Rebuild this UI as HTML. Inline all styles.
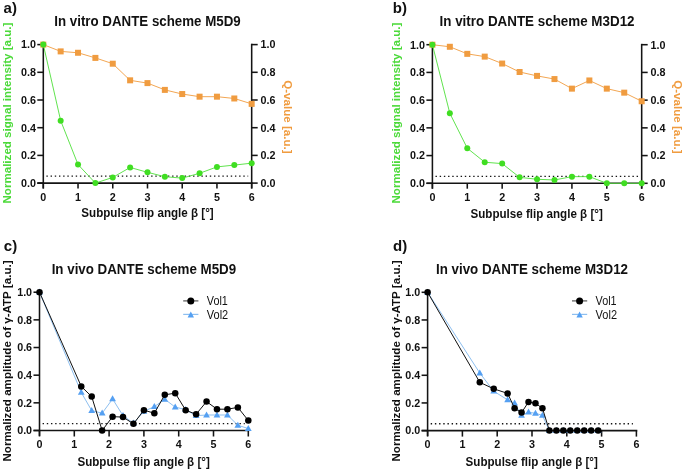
<!DOCTYPE html>
<html><head><meta charset="utf-8"><style>
html,body{margin:0;padding:0;background:#fff;width:685px;height:470px;overflow:hidden}
svg{display:block;will-change:transform}
text{font-family:"Liberation Sans", sans-serif;fill:#111}
.tk{font-size:10.75px;font-weight:bold}
.tt{font-size:11.6px;font-weight:bold}
.ti{font-size:13.4px;font-weight:bold}
.tx{font-size:12px;font-weight:bold}
.pl{font-size:15px;font-weight:bold}
.lg{font-size:11px}
</style></head><body>
<svg width="685" height="470" viewBox="0 0 685 470">
<rect width="685" height="470" fill="#fff"/>
<text transform="translate(3.6,12.6)" class="pl">a)</text>
<text transform="translate(392.8,12.6)" class="pl">b)</text>
<text transform="translate(3.8,251.2)" class="pl">c)</text>
<text transform="translate(393,251.2)" class="pl">d)</text>
<text transform="translate(147.49,25.9) scale(1,1.06)" class="ti" textLength="186.5" lengthAdjust="spacingAndGlyphs" text-anchor="middle">In vitro DANTE scheme M5D9</text>
<text transform="translate(537.04,25.9) scale(1,1.06)" class="ti" textLength="195" lengthAdjust="spacingAndGlyphs" text-anchor="middle">In vitro DANTE scheme M3D12</text>
<text transform="translate(143.9,273.6) scale(1,1.06)" class="ti" textLength="184.5" lengthAdjust="spacingAndGlyphs" text-anchor="middle">In vivo DANTE scheme M5D9</text>
<text transform="translate(532,273.6) scale(1,1.06)" class="ti" textLength="192" lengthAdjust="spacingAndGlyphs" text-anchor="middle">In vivo DANTE scheme M3D12</text>
<text transform="translate(147.49,217.2) scale(1,1.04)" class="tx" textLength="132.3" lengthAdjust="spacingAndGlyphs" text-anchor="middle">Subpulse flip angle β [°]</text>
<text transform="translate(536.64,218) scale(1,1.04)" class="tx" textLength="132.3" lengthAdjust="spacingAndGlyphs" text-anchor="middle">Subpulse flip angle β [°]</text>
<text transform="translate(143.6,466.2) scale(1,1.04)" class="tx" textLength="132.3" lengthAdjust="spacingAndGlyphs" text-anchor="middle">Subpulse flip angle β [°]</text>
<text transform="translate(531.7,466.2) scale(1,1.04)" class="tx" textLength="132.3" lengthAdjust="spacingAndGlyphs" text-anchor="middle">Subpulse flip angle β [°]</text>
<text transform="translate(10.5,113.1) rotate(-90) scale(1,1.02)" class="tt" style="fill:#4cda3a" text-anchor="middle">Normalized signal intensity [a.u.]</text>
<text transform="translate(399.6,113.1) rotate(-90) scale(1,1.02)" class="tt" style="fill:#4cda3a" text-anchor="middle">Normalized signal intensity [a.u.]</text>
<text transform="translate(10.7,361) rotate(-90) scale(1,1.02)" class="tt" style="fill:#111" text-anchor="middle">Normalized amplitude of γ-ATP [a.u.]</text>
<text transform="translate(399.7,361) rotate(-90) scale(1,1.02)" class="tt" style="fill:#111" text-anchor="middle">Normalized amplitude of γ-ATP [a.u.]</text>
<text transform="translate(283.7,116.9) rotate(90)" class="tt" style="fill:#f09c40" text-anchor="middle">Q-value [a.u.]</text>
<text transform="translate(673.7,116.9) rotate(90)" class="tt" style="fill:#f09c40" text-anchor="middle">Q-value [a.u.]</text>
<line x1="43.3" y1="43.7" x2="43.3" y2="188.5" stroke="#141414" stroke-width="1.55"/>
<line x1="37.3" y1="183.1" x2="252.58" y2="183.1" stroke="#141414" stroke-width="1.55"/>
<line x1="37.3" y1="183.1" x2="43.3" y2="183.1" stroke="#141414" stroke-width="1.55"/>
<line x1="251.68" y1="183.1" x2="257.68" y2="183.1" stroke="#141414" stroke-width="1.55"/>
<line x1="37.3" y1="155.4" x2="43.3" y2="155.4" stroke="#141414" stroke-width="1.55"/>
<line x1="251.68" y1="155.4" x2="257.68" y2="155.4" stroke="#141414" stroke-width="1.55"/>
<line x1="37.3" y1="127.7" x2="43.3" y2="127.7" stroke="#141414" stroke-width="1.55"/>
<line x1="251.68" y1="127.7" x2="257.68" y2="127.7" stroke="#141414" stroke-width="1.55"/>
<line x1="37.3" y1="100" x2="43.3" y2="100" stroke="#141414" stroke-width="1.55"/>
<line x1="251.68" y1="100" x2="257.68" y2="100" stroke="#141414" stroke-width="1.55"/>
<line x1="37.3" y1="72.3" x2="43.3" y2="72.3" stroke="#141414" stroke-width="1.55"/>
<line x1="251.68" y1="72.3" x2="257.68" y2="72.3" stroke="#141414" stroke-width="1.55"/>
<line x1="37.3" y1="44.6" x2="43.3" y2="44.6" stroke="#141414" stroke-width="1.55"/>
<line x1="251.68" y1="44.6" x2="257.68" y2="44.6" stroke="#141414" stroke-width="1.55"/>
<line x1="251.68" y1="43.7" x2="251.68" y2="188.5" stroke="#141414" stroke-width="1.55"/>
<line x1="43.3" y1="183.1" x2="43.3" y2="188.5" stroke="#141414" stroke-width="1.55"/>
<line x1="78.03" y1="183.1" x2="78.03" y2="188.5" stroke="#141414" stroke-width="1.55"/>
<line x1="112.76" y1="183.1" x2="112.76" y2="188.5" stroke="#141414" stroke-width="1.55"/>
<line x1="147.49" y1="183.1" x2="147.49" y2="188.5" stroke="#141414" stroke-width="1.55"/>
<line x1="182.22" y1="183.1" x2="182.22" y2="188.5" stroke="#141414" stroke-width="1.55"/>
<line x1="216.95" y1="183.1" x2="216.95" y2="188.5" stroke="#141414" stroke-width="1.55"/>
<line x1="251.68" y1="183.1" x2="251.68" y2="188.5" stroke="#141414" stroke-width="1.55"/>
<text transform="translate(35.9,186.95)" class="tk" text-anchor="end">0.0</text>
<text transform="translate(260.58,186.95)" class="tk">0.0</text>
<text transform="translate(35.9,159.25)" class="tk" text-anchor="end">0.2</text>
<text transform="translate(260.58,159.25)" class="tk">0.2</text>
<text transform="translate(35.9,131.55)" class="tk" text-anchor="end">0.4</text>
<text transform="translate(260.58,131.55)" class="tk">0.4</text>
<text transform="translate(35.9,103.85)" class="tk" text-anchor="end">0.6</text>
<text transform="translate(260.58,103.85)" class="tk">0.6</text>
<text transform="translate(35.9,76.15)" class="tk" text-anchor="end">0.8</text>
<text transform="translate(260.58,76.15)" class="tk">0.8</text>
<text transform="translate(35.9,48.45)" class="tk" text-anchor="end">1.0</text>
<text transform="translate(260.58,48.45)" class="tk">1.0</text>
<text transform="translate(43.3,200.6)" class="tk" text-anchor="middle">0</text>
<text transform="translate(78.03,200.6)" class="tk" text-anchor="middle">1</text>
<text transform="translate(112.76,200.6)" class="tk" text-anchor="middle">2</text>
<text transform="translate(147.49,200.6)" class="tk" text-anchor="middle">3</text>
<text transform="translate(182.22,200.6)" class="tk" text-anchor="middle">4</text>
<text transform="translate(216.95,200.6)" class="tk" text-anchor="middle">5</text>
<text transform="translate(251.68,200.6)" class="tk" text-anchor="middle">6</text>
<line x1="46.4" y1="176.17" x2="248.18" y2="176.17" stroke="#141414" stroke-width="1.4" stroke-dasharray="1.4 2.79"/>
<line x1="432.4" y1="43.8" x2="432.4" y2="188.7" stroke="#141414" stroke-width="1.55"/>
<line x1="426.4" y1="183.3" x2="642.58" y2="183.3" stroke="#141414" stroke-width="1.55"/>
<line x1="426.4" y1="183.3" x2="432.4" y2="183.3" stroke="#141414" stroke-width="1.55"/>
<line x1="641.68" y1="183.3" x2="647.68" y2="183.3" stroke="#141414" stroke-width="1.55"/>
<line x1="426.4" y1="155.58" x2="432.4" y2="155.58" stroke="#141414" stroke-width="1.55"/>
<line x1="641.68" y1="155.58" x2="647.68" y2="155.58" stroke="#141414" stroke-width="1.55"/>
<line x1="426.4" y1="127.86" x2="432.4" y2="127.86" stroke="#141414" stroke-width="1.55"/>
<line x1="641.68" y1="127.86" x2="647.68" y2="127.86" stroke="#141414" stroke-width="1.55"/>
<line x1="426.4" y1="100.14" x2="432.4" y2="100.14" stroke="#141414" stroke-width="1.55"/>
<line x1="641.68" y1="100.14" x2="647.68" y2="100.14" stroke="#141414" stroke-width="1.55"/>
<line x1="426.4" y1="72.42" x2="432.4" y2="72.42" stroke="#141414" stroke-width="1.55"/>
<line x1="641.68" y1="72.42" x2="647.68" y2="72.42" stroke="#141414" stroke-width="1.55"/>
<line x1="426.4" y1="44.7" x2="432.4" y2="44.7" stroke="#141414" stroke-width="1.55"/>
<line x1="641.68" y1="44.7" x2="647.68" y2="44.7" stroke="#141414" stroke-width="1.55"/>
<line x1="641.68" y1="43.8" x2="641.68" y2="188.7" stroke="#141414" stroke-width="1.55"/>
<line x1="432.4" y1="183.3" x2="432.4" y2="188.7" stroke="#141414" stroke-width="1.55"/>
<line x1="467.28" y1="183.3" x2="467.28" y2="188.7" stroke="#141414" stroke-width="1.55"/>
<line x1="502.16" y1="183.3" x2="502.16" y2="188.7" stroke="#141414" stroke-width="1.55"/>
<line x1="537.04" y1="183.3" x2="537.04" y2="188.7" stroke="#141414" stroke-width="1.55"/>
<line x1="571.92" y1="183.3" x2="571.92" y2="188.7" stroke="#141414" stroke-width="1.55"/>
<line x1="606.8" y1="183.3" x2="606.8" y2="188.7" stroke="#141414" stroke-width="1.55"/>
<line x1="641.68" y1="183.3" x2="641.68" y2="188.7" stroke="#141414" stroke-width="1.55"/>
<text transform="translate(425,187.15)" class="tk" text-anchor="end">0.0</text>
<text transform="translate(650.58,187.15)" class="tk">0.0</text>
<text transform="translate(425,159.43)" class="tk" text-anchor="end">0.2</text>
<text transform="translate(650.58,159.43)" class="tk">0.2</text>
<text transform="translate(425,131.71)" class="tk" text-anchor="end">0.4</text>
<text transform="translate(650.58,131.71)" class="tk">0.4</text>
<text transform="translate(425,103.99)" class="tk" text-anchor="end">0.6</text>
<text transform="translate(650.58,103.99)" class="tk">0.6</text>
<text transform="translate(425,76.27)" class="tk" text-anchor="end">0.8</text>
<text transform="translate(650.58,76.27)" class="tk">0.8</text>
<text transform="translate(425,48.55)" class="tk" text-anchor="end">1.0</text>
<text transform="translate(650.58,48.55)" class="tk">1.0</text>
<text transform="translate(432.4,200.8)" class="tk" text-anchor="middle">0</text>
<text transform="translate(467.28,200.8)" class="tk" text-anchor="middle">1</text>
<text transform="translate(502.16,200.8)" class="tk" text-anchor="middle">2</text>
<text transform="translate(537.04,200.8)" class="tk" text-anchor="middle">3</text>
<text transform="translate(571.92,200.8)" class="tk" text-anchor="middle">4</text>
<text transform="translate(606.8,200.8)" class="tk" text-anchor="middle">5</text>
<text transform="translate(641.68,200.8)" class="tk" text-anchor="middle">6</text>
<line x1="435.5" y1="176.37" x2="638.18" y2="176.37" stroke="#141414" stroke-width="1.4" stroke-dasharray="1.4 2.79"/>
<line x1="39.5" y1="291.3" x2="39.5" y2="435.9" stroke="#141414" stroke-width="1.55"/>
<line x1="33.5" y1="430.5" x2="249.2" y2="430.5" stroke="#141414" stroke-width="1.55"/>
<line x1="33.5" y1="430.5" x2="39.5" y2="430.5" stroke="#141414" stroke-width="1.55"/>
<line x1="33.5" y1="402.84" x2="39.5" y2="402.84" stroke="#141414" stroke-width="1.55"/>
<line x1="33.5" y1="375.18" x2="39.5" y2="375.18" stroke="#141414" stroke-width="1.55"/>
<line x1="33.5" y1="347.52" x2="39.5" y2="347.52" stroke="#141414" stroke-width="1.55"/>
<line x1="33.5" y1="319.86" x2="39.5" y2="319.86" stroke="#141414" stroke-width="1.55"/>
<line x1="33.5" y1="292.2" x2="39.5" y2="292.2" stroke="#141414" stroke-width="1.55"/>
<line x1="39.5" y1="430.5" x2="39.5" y2="436.5" stroke="#141414" stroke-width="1.55"/>
<line x1="74.3" y1="430.5" x2="74.3" y2="436.5" stroke="#141414" stroke-width="1.55"/>
<line x1="109.1" y1="430.5" x2="109.1" y2="436.5" stroke="#141414" stroke-width="1.55"/>
<line x1="143.9" y1="430.5" x2="143.9" y2="436.5" stroke="#141414" stroke-width="1.55"/>
<line x1="178.7" y1="430.5" x2="178.7" y2="436.5" stroke="#141414" stroke-width="1.55"/>
<line x1="213.5" y1="430.5" x2="213.5" y2="436.5" stroke="#141414" stroke-width="1.55"/>
<line x1="248.3" y1="430.5" x2="248.3" y2="436.5" stroke="#141414" stroke-width="1.55"/>
<text transform="translate(32.1,434.35)" class="tk" text-anchor="end">0.0</text>
<text transform="translate(32.1,406.69)" class="tk" text-anchor="end">0.2</text>
<text transform="translate(32.1,379.03)" class="tk" text-anchor="end">0.4</text>
<text transform="translate(32.1,351.37)" class="tk" text-anchor="end">0.6</text>
<text transform="translate(32.1,323.71)" class="tk" text-anchor="end">0.8</text>
<text transform="translate(32.1,296.05)" class="tk" text-anchor="end">1.0</text>
<text transform="translate(39.5,448)" class="tk" text-anchor="middle">0</text>
<text transform="translate(74.3,448)" class="tk" text-anchor="middle">1</text>
<text transform="translate(109.1,448)" class="tk" text-anchor="middle">2</text>
<text transform="translate(143.9,448)" class="tk" text-anchor="middle">3</text>
<text transform="translate(178.7,448)" class="tk" text-anchor="middle">4</text>
<text transform="translate(213.5,448)" class="tk" text-anchor="middle">5</text>
<text transform="translate(248.3,448)" class="tk" text-anchor="middle">6</text>
<line x1="42.6" y1="423.58" x2="244.8" y2="423.58" stroke="#141414" stroke-width="1.4" stroke-dasharray="1.4 2.79"/>
<line x1="427.6" y1="291.4" x2="427.6" y2="436" stroke="#141414" stroke-width="1.55"/>
<line x1="421.6" y1="430.6" x2="637.3" y2="430.6" stroke="#141414" stroke-width="1.55"/>
<line x1="421.6" y1="430.6" x2="427.6" y2="430.6" stroke="#141414" stroke-width="1.55"/>
<line x1="421.6" y1="402.94" x2="427.6" y2="402.94" stroke="#141414" stroke-width="1.55"/>
<line x1="421.6" y1="375.28" x2="427.6" y2="375.28" stroke="#141414" stroke-width="1.55"/>
<line x1="421.6" y1="347.62" x2="427.6" y2="347.62" stroke="#141414" stroke-width="1.55"/>
<line x1="421.6" y1="319.96" x2="427.6" y2="319.96" stroke="#141414" stroke-width="1.55"/>
<line x1="421.6" y1="292.3" x2="427.6" y2="292.3" stroke="#141414" stroke-width="1.55"/>
<line x1="427.6" y1="430.6" x2="427.6" y2="436.6" stroke="#141414" stroke-width="1.55"/>
<line x1="462.4" y1="430.6" x2="462.4" y2="436.6" stroke="#141414" stroke-width="1.55"/>
<line x1="497.2" y1="430.6" x2="497.2" y2="436.6" stroke="#141414" stroke-width="1.55"/>
<line x1="532" y1="430.6" x2="532" y2="436.6" stroke="#141414" stroke-width="1.55"/>
<line x1="566.8" y1="430.6" x2="566.8" y2="436.6" stroke="#141414" stroke-width="1.55"/>
<line x1="601.6" y1="430.6" x2="601.6" y2="436.6" stroke="#141414" stroke-width="1.55"/>
<line x1="636.4" y1="430.6" x2="636.4" y2="436.6" stroke="#141414" stroke-width="1.55"/>
<text transform="translate(420.2,434.45)" class="tk" text-anchor="end">0.0</text>
<text transform="translate(420.2,406.79)" class="tk" text-anchor="end">0.2</text>
<text transform="translate(420.2,379.13)" class="tk" text-anchor="end">0.4</text>
<text transform="translate(420.2,351.47)" class="tk" text-anchor="end">0.6</text>
<text transform="translate(420.2,323.81)" class="tk" text-anchor="end">0.8</text>
<text transform="translate(420.2,296.15)" class="tk" text-anchor="end">1.0</text>
<text transform="translate(427.6,448.1)" class="tk" text-anchor="middle">0</text>
<text transform="translate(462.4,448.1)" class="tk" text-anchor="middle">1</text>
<text transform="translate(497.2,448.1)" class="tk" text-anchor="middle">2</text>
<text transform="translate(532,448.1)" class="tk" text-anchor="middle">3</text>
<text transform="translate(566.8,448.1)" class="tk" text-anchor="middle">4</text>
<text transform="translate(601.6,448.1)" class="tk" text-anchor="middle">5</text>
<text transform="translate(636.4,448.1)" class="tk" text-anchor="middle">6</text>
<line x1="430.7" y1="423.69" x2="632.9" y2="423.69" stroke="#141414" stroke-width="1.4" stroke-dasharray="1.4 2.79"/>
<polyline points="43.3,44.6 60.66,51.39 78.03,52.77 95.39,57.9 112.76,63.71 130.12,80.33 147.49,83.1 164.85,89.89 182.22,94.04 199.58,96.68 216.95,96.68 234.31,98.48 251.68,103.88" fill="none" stroke="#f09c40" stroke-width="0.9" stroke-linejoin="round"/>
<rect x="40.3" y="41.6" width="6" height="6" fill="#f09c40"/>
<rect x="57.66" y="48.39" width="6" height="6" fill="#f09c40"/>
<rect x="75.03" y="49.77" width="6" height="6" fill="#f09c40"/>
<rect x="92.39" y="54.9" width="6" height="6" fill="#f09c40"/>
<rect x="109.76" y="60.71" width="6" height="6" fill="#f09c40"/>
<rect x="127.12" y="77.33" width="6" height="6" fill="#f09c40"/>
<rect x="144.49" y="80.1" width="6" height="6" fill="#f09c40"/>
<rect x="161.85" y="86.89" width="6" height="6" fill="#f09c40"/>
<rect x="179.22" y="91.04" width="6" height="6" fill="#f09c40"/>
<rect x="196.58" y="93.68" width="6" height="6" fill="#f09c40"/>
<rect x="213.95" y="93.68" width="6" height="6" fill="#f09c40"/>
<rect x="231.31" y="95.48" width="6" height="6" fill="#f09c40"/>
<rect x="248.68" y="100.88" width="6" height="6" fill="#f09c40"/>
<polyline points="43.3,44.6 60.66,120.64 78.03,164.54 95.39,183.1 112.76,177.42 130.12,167.45 147.49,172.3 164.85,176.73 182.22,178.11 199.58,173.27 216.95,166.9 234.31,165.09 251.68,163.16" fill="none" stroke="#58e246" stroke-width="0.95" stroke-linejoin="round"/>
<circle cx="43.3" cy="44.6" r="3.0" fill="#40de22"/>
<circle cx="60.66" cy="120.64" r="3.0" fill="#40de22"/>
<circle cx="78.03" cy="164.54" r="3.0" fill="#40de22"/>
<circle cx="95.39" cy="183.1" r="3.0" fill="#40de22"/>
<circle cx="112.76" cy="177.42" r="3.0" fill="#40de22"/>
<circle cx="130.12" cy="167.45" r="3.0" fill="#40de22"/>
<circle cx="147.49" cy="172.3" r="3.0" fill="#40de22"/>
<circle cx="164.85" cy="176.73" r="3.0" fill="#40de22"/>
<circle cx="182.22" cy="178.11" r="3.0" fill="#40de22"/>
<circle cx="199.58" cy="173.27" r="3.0" fill="#40de22"/>
<circle cx="216.95" cy="166.9" r="3.0" fill="#40de22"/>
<circle cx="234.31" cy="165.09" r="3.0" fill="#40de22"/>
<circle cx="251.68" cy="163.16" r="3.0" fill="#40de22"/>
<polyline points="432.4,44.7 449.84,46.78 467.28,53.85 484.72,56.62 502.16,63.55 519.6,72 537.04,75.89 554.48,79.07 571.92,88.64 589.36,80.46 606.8,88.64 624.24,92.66 641.68,101.25" fill="none" stroke="#f09c40" stroke-width="0.9" stroke-linejoin="round"/>
<rect x="429.4" y="41.7" width="6" height="6" fill="#f09c40"/>
<rect x="446.84" y="43.78" width="6" height="6" fill="#f09c40"/>
<rect x="464.28" y="50.85" width="6" height="6" fill="#f09c40"/>
<rect x="481.72" y="53.62" width="6" height="6" fill="#f09c40"/>
<rect x="499.16" y="60.55" width="6" height="6" fill="#f09c40"/>
<rect x="516.6" y="69" width="6" height="6" fill="#f09c40"/>
<rect x="534.04" y="72.89" width="6" height="6" fill="#f09c40"/>
<rect x="551.48" y="76.07" width="6" height="6" fill="#f09c40"/>
<rect x="568.92" y="85.64" width="6" height="6" fill="#f09c40"/>
<rect x="586.36" y="77.46" width="6" height="6" fill="#f09c40"/>
<rect x="603.8" y="85.64" width="6" height="6" fill="#f09c40"/>
<rect x="621.24" y="89.66" width="6" height="6" fill="#f09c40"/>
<rect x="638.68" y="98.25" width="6" height="6" fill="#f09c40"/>
<polyline points="432.4,44.7 449.84,113.31 467.28,148.23 484.72,162.23 502.16,163.62 519.6,177.34 537.04,179.28 554.48,179.97 571.92,176.65 589.36,176.65 606.8,183.3 624.24,183.3 641.68,183.3" fill="none" stroke="#58e246" stroke-width="0.95" stroke-linejoin="round"/>
<circle cx="432.4" cy="44.7" r="3.0" fill="#40de22"/>
<circle cx="449.84" cy="113.31" r="3.0" fill="#40de22"/>
<circle cx="467.28" cy="148.23" r="3.0" fill="#40de22"/>
<circle cx="484.72" cy="162.23" r="3.0" fill="#40de22"/>
<circle cx="502.16" cy="163.62" r="3.0" fill="#40de22"/>
<circle cx="519.6" cy="177.34" r="3.0" fill="#40de22"/>
<circle cx="537.04" cy="179.28" r="3.0" fill="#40de22"/>
<circle cx="554.48" cy="179.97" r="3.0" fill="#40de22"/>
<circle cx="571.92" cy="176.65" r="3.0" fill="#40de22"/>
<circle cx="589.36" cy="176.65" r="3.0" fill="#40de22"/>
<circle cx="606.8" cy="183.3" r="3.0" fill="#40de22"/>
<circle cx="624.24" cy="183.3" r="3.0" fill="#40de22"/>
<circle cx="641.68" cy="183.3" r="3.0" fill="#40de22"/>
<polyline points="39.5,292.2 81.26,392.47 91.7,410.58 102.14,413.21 112.58,398.97 123.02,415.7 133.46,423.17 143.9,411.28 154.34,406.71 164.78,399.24 175.22,407.13 185.66,409.62 196.1,415.7 206.54,415.01 216.98,415.01 227.42,415.01 237.86,425.24 248.3,428.56" fill="none" stroke="#8dbff0" stroke-width="1.0" stroke-linejoin="round"/>
<polygon points="39.5,288.6 42.9,294.6 36.1,294.6" fill="#55a0f2"/>
<polygon points="81.26,388.87 84.66,394.87 77.86,394.87" fill="#55a0f2"/>
<polygon points="91.7,406.98 95.1,412.98 88.3,412.98" fill="#55a0f2"/>
<polygon points="102.14,409.61 105.54,415.61 98.74,415.61" fill="#55a0f2"/>
<polygon points="112.58,395.37 115.98,401.37 109.18,401.37" fill="#55a0f2"/>
<polygon points="123.02,412.1 126.42,418.1 119.62,418.1" fill="#55a0f2"/>
<polygon points="133.46,419.57 136.86,425.57 130.06,425.57" fill="#55a0f2"/>
<polygon points="143.9,407.68 147.3,413.68 140.5,413.68" fill="#55a0f2"/>
<polygon points="154.34,403.11 157.74,409.11 150.94,409.11" fill="#55a0f2"/>
<polygon points="164.78,395.64 168.18,401.64 161.38,401.64" fill="#55a0f2"/>
<polygon points="175.22,403.53 178.62,409.53 171.82,409.53" fill="#55a0f2"/>
<polygon points="185.66,406.02 189.06,412.02 182.26,412.02" fill="#55a0f2"/>
<polygon points="196.1,412.1 199.5,418.1 192.7,418.1" fill="#55a0f2"/>
<polygon points="206.54,411.41 209.94,417.41 203.14,417.41" fill="#55a0f2"/>
<polygon points="216.98,411.41 220.38,417.41 213.58,417.41" fill="#55a0f2"/>
<polygon points="227.42,411.41 230.82,417.41 224.02,417.41" fill="#55a0f2"/>
<polygon points="237.86,421.64 241.26,427.64 234.46,427.64" fill="#55a0f2"/>
<polygon points="248.3,424.96 251.7,430.96 244.9,430.96" fill="#55a0f2"/>
<polyline points="39.5,292.2 81.26,386.38 91.7,396.62 102.14,430.5 112.58,416.67 123.02,417.08 133.46,423.86 143.9,410.17 154.34,413.21 164.78,394.82 175.22,393.16 185.66,410.17 196.1,414.32 206.54,401.6 216.98,409.2 227.42,409.2 237.86,407.4 248.3,420.54" fill="none" stroke="#111" stroke-width="1.0" stroke-linejoin="round"/>
<circle cx="39.5" cy="292.2" r="3.25" fill="#000"/>
<circle cx="81.26" cy="386.38" r="3.25" fill="#000"/>
<circle cx="91.7" cy="396.62" r="3.25" fill="#000"/>
<circle cx="102.14" cy="430.5" r="3.25" fill="#000"/>
<circle cx="112.58" cy="416.67" r="3.25" fill="#000"/>
<circle cx="123.02" cy="417.08" r="3.25" fill="#000"/>
<circle cx="133.46" cy="423.86" r="3.25" fill="#000"/>
<circle cx="143.9" cy="410.17" r="3.25" fill="#000"/>
<circle cx="154.34" cy="413.21" r="3.25" fill="#000"/>
<circle cx="164.78" cy="394.82" r="3.25" fill="#000"/>
<circle cx="175.22" cy="393.16" r="3.25" fill="#000"/>
<circle cx="185.66" cy="410.17" r="3.25" fill="#000"/>
<circle cx="196.1" cy="414.32" r="3.25" fill="#000"/>
<circle cx="206.54" cy="401.6" r="3.25" fill="#000"/>
<circle cx="216.98" cy="409.2" r="3.25" fill="#000"/>
<circle cx="227.42" cy="409.2" r="3.25" fill="#000"/>
<circle cx="237.86" cy="407.4" r="3.25" fill="#000"/>
<circle cx="248.3" cy="420.54" r="3.25" fill="#000"/>
<polyline points="427.6,292.3 479.8,373.07 493.72,391.18 507.64,399.9 514.6,403.22 521.56,415.39 528.52,412.21 535.48,413.31 542.44,415.39 549.4,430.6 556.36,430.6 563.32,430.6 570.28,430.6 577.24,430.6 584.2,430.6 591.16,430.6 598.12,430.6" fill="none" stroke="#8dbff0" stroke-width="1.0" stroke-linejoin="round"/>
<polygon points="427.6,288.7 431,294.7 424.2,294.7" fill="#55a0f2"/>
<polygon points="479.8,369.47 483.2,375.47 476.4,375.47" fill="#55a0f2"/>
<polygon points="493.72,387.58 497.12,393.58 490.32,393.58" fill="#55a0f2"/>
<polygon points="507.64,396.3 511.04,402.3 504.24,402.3" fill="#55a0f2"/>
<polygon points="514.6,399.62 518,405.62 511.2,405.62" fill="#55a0f2"/>
<polygon points="521.56,411.79 524.96,417.79 518.16,417.79" fill="#55a0f2"/>
<polygon points="528.52,408.61 531.92,414.61 525.12,414.61" fill="#55a0f2"/>
<polygon points="535.48,409.71 538.88,415.71 532.08,415.71" fill="#55a0f2"/>
<polygon points="542.44,411.79 545.84,417.79 539.04,417.79" fill="#55a0f2"/>
<polygon points="549.4,427 552.8,433 546,433" fill="#55a0f2"/>
<polygon points="556.36,427 559.76,433 552.96,433" fill="#55a0f2"/>
<polygon points="563.32,427 566.72,433 559.92,433" fill="#55a0f2"/>
<polygon points="570.28,427 573.68,433 566.88,433" fill="#55a0f2"/>
<polygon points="577.24,427 580.64,433 573.84,433" fill="#55a0f2"/>
<polygon points="584.2,427 587.6,433 580.8,433" fill="#55a0f2"/>
<polygon points="591.16,427 594.56,433 587.76,433" fill="#55a0f2"/>
<polygon points="598.12,427 601.52,433 594.72,433" fill="#55a0f2"/>
<polyline points="427.6,292.3 479.8,382.33 493.72,388.83 507.64,393.4 514.6,408.33 521.56,412.62 528.52,401.97 535.48,403.22 542.44,408.33 549.4,430.6 556.36,430.6 563.32,430.6 570.28,430.6 577.24,430.6 584.2,430.6 591.16,430.6 598.12,430.6" fill="none" stroke="#111" stroke-width="1.0" stroke-linejoin="round"/>
<circle cx="427.6" cy="292.3" r="3.25" fill="#000"/>
<circle cx="479.8" cy="382.33" r="3.25" fill="#000"/>
<circle cx="493.72" cy="388.83" r="3.25" fill="#000"/>
<circle cx="507.64" cy="393.4" r="3.25" fill="#000"/>
<circle cx="514.6" cy="408.33" r="3.25" fill="#000"/>
<circle cx="521.56" cy="412.62" r="3.25" fill="#000"/>
<circle cx="528.52" cy="401.97" r="3.25" fill="#000"/>
<circle cx="535.48" cy="403.22" r="3.25" fill="#000"/>
<circle cx="542.44" cy="408.33" r="3.25" fill="#000"/>
<circle cx="549.4" cy="430.6" r="3.25" fill="#000"/>
<circle cx="556.36" cy="430.6" r="3.25" fill="#000"/>
<circle cx="563.32" cy="430.6" r="3.25" fill="#000"/>
<circle cx="570.28" cy="430.6" r="3.25" fill="#000"/>
<circle cx="577.24" cy="430.6" r="3.25" fill="#000"/>
<circle cx="584.2" cy="430.6" r="3.25" fill="#000"/>
<circle cx="591.16" cy="430.6" r="3.25" fill="#000"/>
<circle cx="598.12" cy="430.6" r="3.25" fill="#000"/>
<line x1="183.2" y1="300.9" x2="198.4" y2="300.9" stroke="#555" stroke-width="1.2"/>
<circle cx="190.8" cy="300.9" r="3.5" fill="#000"/>
<text transform="translate(206.8,304.5) scale(1,1.08)" class="lg" textLength="21" lengthAdjust="spacingAndGlyphs">Vol1</text>
<line x1="183.2" y1="314.4" x2="198.4" y2="314.4" stroke="#8dbff0" stroke-width="1.2"/>
<polygon points="190.8,311.4 194.0,317.4 187.6,317.4" fill="#55a0f2"/>
<text transform="translate(206.8,318.7) scale(1,1.08)" class="lg" textLength="21.4" lengthAdjust="spacingAndGlyphs">Vol2</text>
<line x1="572.0" y1="300.9" x2="587.2" y2="300.9" stroke="#555" stroke-width="1.2"/>
<circle cx="579.6" cy="300.9" r="3.5" fill="#000"/>
<text transform="translate(595.6,304.5) scale(1,1.08)" class="lg" textLength="21" lengthAdjust="spacingAndGlyphs">Vol1</text>
<line x1="572.0" y1="314.4" x2="587.2" y2="314.4" stroke="#8dbff0" stroke-width="1.2"/>
<polygon points="579.6,311.4 582.8,317.4 576.4,317.4" fill="#55a0f2"/>
<text transform="translate(595.6,318.7) scale(1,1.08)" class="lg" textLength="21.4" lengthAdjust="spacingAndGlyphs">Vol2</text>
</svg>
</body></html>
